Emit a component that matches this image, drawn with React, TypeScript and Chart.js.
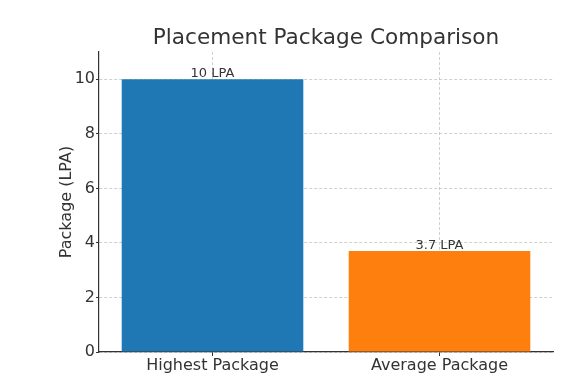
import React, { useEffect, useRef } from "react";
import { Chart, registerables } from "chart.js";

Chart.register(...registerables);

const categories = ["Highest Package", "Average Package"];
const packages = [10, 3.7];
const barLabels = ["10 LPA", "3.7 LPA"];
const barColors = ["#1f77b4", "#ff7f0e"];
const yTicks = [0, 2, 4, 6, 8, 10];
const chartTitle = "Placement Package Comparison";

const FONT = "'DejaVu Sans', sans-serif";
const TEXT = "#333333";
const GRID = "rgba(176,176,176,0.6)";

const barLabelPlugin = {
  id: "barLabels",
  afterDraw(chart: any) {
    const ctx = chart.ctx;
    const meta = chart.getDatasetMeta(0);
    const area = chart.chartArea;
    ctx.save();
    ctx.font = `13px ${FONT}`;
    ctx.fillStyle = TEXT;
    ctx.textAlign = "center";
    ctx.textBaseline = "bottom";
    meta.data.forEach((bar: any, i: number) => {
      ctx.fillText(barLabels[i], bar.x, bar.y + 1);
    });
    ctx.font = `21.6px ${FONT}`;
    ctx.textBaseline = "middle";
    ctx.fillText(chartTitle, (area.left + area.right) / 2, 38);
    ctx.restore();
  },
};

export default function App() {
  const ref = useRef<HTMLCanvasElement>(null);
  useEffect(() => {
    if (!ref.current) return;
    const chart = new Chart(ref.current, {
      type: "bar",
      data: {
        labels: categories,
        datasets: [
          {
            data: packages,
            backgroundColor: barColors,
            borderWidth: 0,
            categoryPercentage: 0.8,
            barPercentage: 1,
          },
        ],
      },
      options: {
        animation: false,
        responsive: false,
        maintainAspectRatio: false,
        layout: { padding: { left: 0, right: 15, top: 52, bottom: 0 } },
        plugins: {
          legend: { display: false },
          tooltip: { enabled: false },
          title: { display: false },
        },
        scales: {
          x: {
            z: 1,
            offset: true,
            grid: {
              offset: false,
              color: GRID,
              lineWidth: 1,
              drawTicks: true,
              tickLength: 4,
              tickColor: TEXT,
              tickWidth: 1,
            },
            border: { display: true, color: TEXT, width: 1.2, dash: [3, 2] },
            ticks: {
              color: TEXT,
              font: { family: FONT, size: 16 },
              padding: 0,
              maxRotation: 0,
            },
            afterFit: (s: any) => {
              s.height = 31;
            },
          },
          y: {
            z: 1,
            min: 0,
            max: 11,
            grid: {
              color: GRID,
              lineWidth: 1,
              drawTicks: true,
              tickLength: 3,
              tickColor: TEXT,
              tickWidth: 1,
            },
            border: { display: true, color: TEXT, width: 1.2, dash: [3, 2] },
            ticks: {
              stepSize: 2,
              color: TEXT,
              font: { family: FONT, size: 16 },
              padding: 1,
            },
            afterBuildTicks: (s: any) => {
              s.ticks = yTicks.map((v) => ({ value: v }));
            },
            title: {
              display: true,
              text: "Package (LPA)",
              color: TEXT,
              font: { family: FONT, size: 16 },
              padding: { top: 57, bottom: 0 },
            },
            afterFit: (s: any) => {
              s.width = 99;
            },
          },
        },
      },
      plugins: [barLabelPlugin],
    });
    return () => chart.destroy();
  }, []);
  return (
    <div style={{ position: "absolute", left: 0, top: 0, width: 568, height: 383, background: "#fff" }}>
      <canvas ref={ref} width={568} height={383} style={{ width: 568, height: 383 }} />
    </div>
  );
}
